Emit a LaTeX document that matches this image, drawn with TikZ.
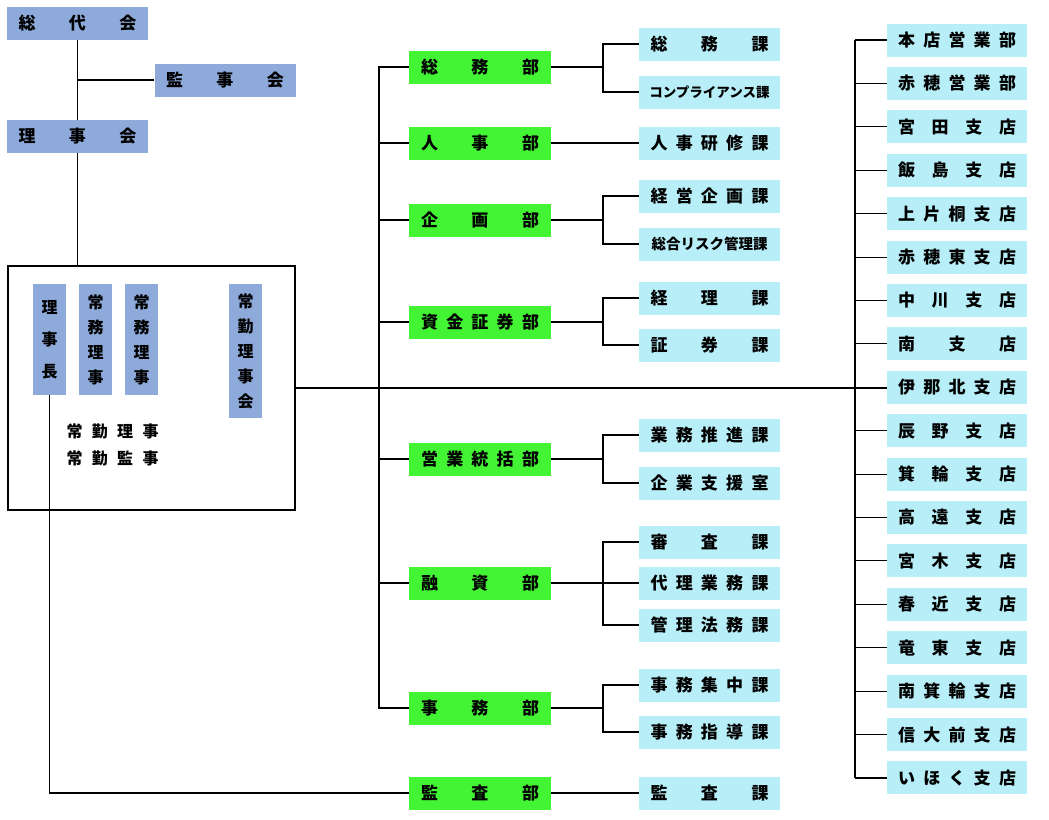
\documentclass[tikz,border=0pt]{standalone}
\usepackage{fontspec}
\setmainfont{Noto Sans CJK JP}
\usetikzlibrary{positioning,calc}
\definecolor{yakuin}{RGB}{142,170,219}
\definecolor{bugreen}{RGB}{66,244,52}
\definecolor{kablue}{RGB}{183,238,248}
% letter spaced label
\def\gobbleone#1{}
\def\firstone#1{#1}
\def\spreadaux#1#2{#1\ifx\relax#2\expandafter\gobbleone\else\hfill\expandafter\firstone\fi{\spreadaux#2}}
\newcommand\spread[2][118pt]{\makebox[#1][s]{\expandafter\spreadaux#2\relax}}
\tikzset{
  conn/.style   = {line width=1.1pt},
  kaigi/.style  = {fill=yakuin, minimum width=141pt, minimum height=33pt, inner sep=0pt,
                   font=\fontsize{17}{17}\selectfont\bfseries},
  tate/.style   = {fill=yakuin, minimum width=33pt, inner sep=0pt, align=center,
                   font=\fontsize{16}{25}\selectfont\bfseries},
  bu/.style     = {fill=bugreen, minimum width=142pt, minimum height=33pt, inner sep=0pt,
                   font=\fontsize{17}{17}\selectfont\bfseries},
  ka/.style     = {fill=kablue, minimum width=141pt, minimum height=33pt, inner sep=0pt,
                   font=\fontsize{17}{17}\selectfont\bfseries}
}
\begin{document}
\begin{tikzpicture}[x=1pt, y=-1pt]
  \useasboundingbox (0,0) rectangle (1049,819);
  % board
  \node[kaigi] (sodai) at (77.5,23.5) {\spread{総代会}};
  \node[kaigi] (kanjikai) at (225,80) {\spread{監事会}};
  \node[kaigi] (rijikai) at (77.5,136.5) {\spread{理事会}};
  \node[draw, conn, minimum width=287pt, minimum height=244pt, inner sep=0pt] (board) at (151.5,388) {};
  \node[tate, minimum height=111pt, font=\fontsize{16}{32}\selectfont\bfseries] (rijicho) at (49.5,339.5) {理\\事\\長};
  \node[tate, minimum height=111pt] (jomu1) at (95.5,339.5) {常\\務\\理\\事};
  \node[tate, minimum height=111pt] (jomu2) at (141.5,339.5) {常\\務\\理\\事};
  \node[tate, minimum height=134pt] (jokinkai) at (245.5,351) {常\\勤\\理\\事\\会};
  \node[align=center, inner sep=0pt, font=\fontsize{16}{27}\selectfont\bfseries] (jokin) at (112.5,444.5)
    {\spread[92pt]{常勤理事}\\\spread[92pt]{常勤監事}};
  \draw[conn] (sodai.south) -- (rijikai.north);
  \draw[conn] (kanjikai.west) -- (kanjikai.west -| sodai.south);
  \draw[conn] (rijikai.south) -- (rijikai.south |- board.north);

  % departments
  \node[bu] (somubu) at (480,67) {\spread{総務部}};
  \node[bu] (jinjibu) at (480,143) {\spread{人事部}};
  \node[bu] (kikakubu) at (480,220) {\spread{企画部}};
  \node[bu] (shikinbu) at (480,322) {\spread{資金証券部}};
  \node[bu] (eigyobu) at (480,459) {\spread{営業統括部}};
  \node[bu] (yushibu) at (480,583) {\spread{融資部}};
  \node[bu] (jimubu) at (480,708) {\spread{事務部}};
  \node[bu] (kansabu) at (480,793) {\spread{監査部}};

  % sections
  \node[ka] (somuka) at (709.5,44) {\spread{総務課}};
  \node[ka, font=\fontsize{13.5}{13.5}\selectfont\bfseries] (compka) at (709.5,92) {コンプライアンス課};
  \node[ka] (jinjika) at (709.5,143) {\spread{人事研修課}};
  \node[ka] (kikakuka) at (709.5,196) {\spread{経営企画課}};
  \node[ka, font=\fontsize{14.5}{14.5}\selectfont\bfseries] (riskka) at (709.5,244) {総合リスク管理課};
  \node[ka] (keirika) at (709.5,298) {\spread{経理課}};
  \node[ka] (shokenka) at (709.5,345) {\spread{証券課}};
  \node[ka] (suishinka) at (709.5,435) {\spread{業務推進課}};
  \node[ka] (shienshitsu) at (709.5,483) {\spread{企業支援室}};
  \node[ka] (shinsaka) at (709.5,542) {\spread{審査課}};
  \node[ka] (dairika) at (709.5,583) {\spread{代理業務課}};
  \node[ka] (homuka) at (709.5,625) {\spread{管理法務課}};
  \node[ka] (shuchuka) at (709.5,685) {\spread{事務集中課}};
  \node[ka] (shidoka) at (709.5,732) {\spread{事務指導課}};
  \node[ka] (kansaka) at (709.5,793) {\spread{監査課}};

  % branches
  \foreach \n [count=\i from 0] in {本店営業部,赤穂営業部,宮田支店,飯島支店,上片桐支店,赤穂東支店,
      中川支店,南支店,伊那北支店,辰野支店,箕輪支店,高遠支店,宮木支店,春近支店,竜東支店,
      南箕輪支店,信大前支店,いほく支店}
    \node[ka, minimum width=140pt] (ten\i) at (957,40+43.41*\i) {\spread{\n}};

  % connectors
  \coordinate (spine) at (379,0);
  \coordinate (sub) at (603,0);
  \coordinate (tspine) at (855,0);
  \draw[conn] (somubu.west) -| (spine |- jimubu.west) -- (jimubu.west);
  \foreach \d in {jinjibu,kikakubu,shikinbu,eigyobu,yushibu}
    \draw[conn] (\d.west) -- (\d.west -| spine);
  \foreach \b/\k in {somubu/somuka,somubu/compka,kikakubu/kikakuka,kikakubu/riskka,
      shikinbu/keirika,shikinbu/shokenka,eigyobu/suishinka,eigyobu/shienshitsu,
      yushibu/shinsaka,yushibu/dairika,yushibu/homuka,jimubu/shuchuka,jimubu/shidoka}
    \draw[conn] (\b.east) -- (\b.east -| sub) |- (\k.west);
  \draw[conn] (jinjibu.east) -- (jinjika.west);
  \draw[conn] (kansabu.east) -- (kansaka.west);
  \draw[conn] (ten0.west -| tspine) -- (ten17.west -| tspine);
  \foreach \i in {0,...,17}
    \draw[conn] (ten\i.west) -- (ten\i.west -| tspine);
  \draw[conn] (board.east) -- (board.east -| ten8.west);
  \draw[conn] (rijicho.south) |- (kansabu.west);
\end{tikzpicture}
\end{document}
